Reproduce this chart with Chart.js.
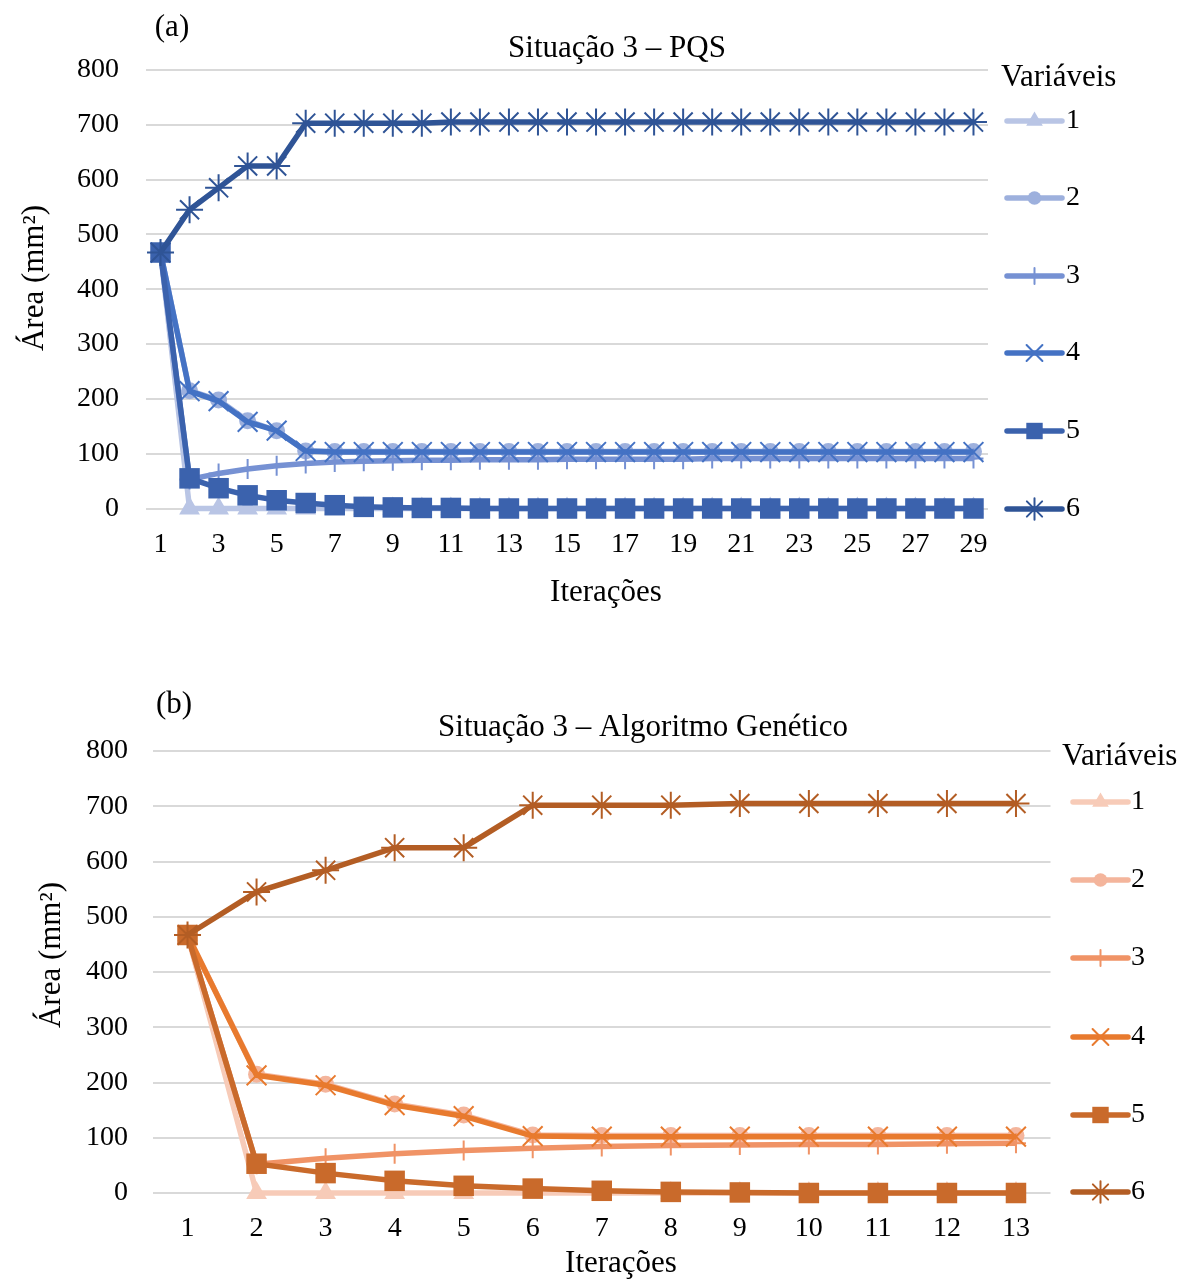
<!DOCTYPE html>
<html><head><meta charset="utf-8">
<script src="https://cdn.jsdelivr.net/npm/chart.js@4/dist/chart.umd.min.js"></script>
<style>
html,body{margin:0;padding:0;background:#fff;}
#wrap{position:relative;width:1185px;height:1282px;overflow:hidden;}
canvas{position:absolute;left:0;}
</style></head><body>
<div id="wrap">
<canvas id="chartA" width="1185" height="640" style="top:0px"></canvas>
<canvas id="chartB" width="1185" height="642" style="top:640px"></canvas>
</div>
<script>
// ---------- DATA ----------
const seriesNames = ['1', '2', '3', '4', '5', '6'];
const yTicks = [0, 100, 200, 300, 400, 500, 600, 700, 800];

// (a) Situação 3 – PQS
const iterA = ['1','2','3','4','5','6','7','8','9','10','11','12','13','14','15','16','17','18','19','20','21','22','23','24','25','26','27','28','29'];
const pqsVar1 = [467, 0, 0, 0, 0, 0, 0, 0, 0, 0, 0, 0, 0, 0, 0, 0, 0, 0, 0, 0, 0, 0, 0, 0, 0, 0, 0, 0, 0];
const pqsVar2 = [467, 215, 198, 160, 142, 105, 104, 104, 104, 104, 104, 104, 104, 104, 104, 104, 104, 104, 104, 104, 104, 104, 104, 104, 104, 104, 104, 104, 104];
const pqsVar3 = [467, 53, 64, 72, 78, 82, 85, 86, 87, 88, 88, 89, 89, 89, 90, 90, 90, 90, 90, 91, 91, 91, 91, 91, 91, 91, 91, 91, 91];
const pqsVar4 = [467, 214, 196, 158, 142, 105, 103, 103, 103, 103, 103, 103, 103, 103, 103, 103, 103, 103, 103, 103, 103, 103, 103, 103, 103, 103, 103, 103, 103];
const pqsVar5 = [467, 55, 37, 24, 15, 10, 6, 3, 2, 1, 1, 0, 0, 0, 0, 0, 0, 0, 0, 0, 0, 0, 0, 0, 0, 0, 0, 0, 0];
const pqsVar6 = [467, 545, 585, 625, 625, 703, 703, 703, 703, 703, 705, 705, 705, 705, 705, 705, 705, 705, 705, 705, 705, 705, 705, 705, 705, 705, 705, 705, 705];

// (b) Situação 3 – Algoritmo Genético
const iterB = ['1','2','3','4','5','6','7','8','9','10','11','12','13'];
const agVar1 = [467, 0, 0, 0, 0, 0, 0, 0, 0, 0, 0, 0, 0];
const agVar2 = [467, 215, 197, 161, 141, 105, 104, 104, 104, 104, 104, 104, 104];
const agVar3 = [467, 52, 63, 71, 77, 81, 84, 86, 87, 88, 88, 89, 90];
const agVar4 = [467, 213, 195, 159, 139, 103, 102, 102, 102, 102, 102, 102, 102];
const agVar5 = [467, 53, 36, 22, 13, 8, 4, 2, 1, 0, 0, 0, 0];
const agVar6 = [467, 545, 584, 625, 625, 702, 702, 702, 705, 705, 705, 705, 705];

// ---------- STYLES ----------
const FONT = '"Liberation Serif", "Times New Roman", serif';
const bluePalette = ['#B9C5E5', '#9DB0DD', '#7691D3', '#4472C4', '#3B62AD', '#2F5496'];
const orangePalette = ['#F7CBB8', '#F4B59C', '#F09366', '#E87A2E', '#C96A2B', '#B35D24'];
const pointStyles = ['triangle', 'circle', 'cross', 'crossRot', 'rect', 'star'];
const pointRadii = [12, 8.5, 10, 14, 14.5, 13.5];
const pointBorders = [0, 0, 2, 2, 0, 2];

function buildDatasets(seriesList, palette) {
  return seriesList.map((vals, i) => ({
    label: seriesNames[i],
    data: vals,
    borderColor: palette[i],
    backgroundColor: palette[i],
    pointBackgroundColor: palette[i],
    pointBorderColor: palette[i],
    borderWidth: 5.5,
    pointStyle: pointStyles[i],
    pointRadius: pointRadii[i],
    pointBorderWidth: pointBorders[i],
    pointHoverRadius: pointRadii[i],
    tension: 0,
    clip: false,
    order: seriesList.length - 1 - i
  }));
}

const decor = {
  id: 'decor',
  afterDraw(chart, args, o) {
    const ctx = chart.ctx;
    ctx.save();
    ctx.fillStyle = '#000';
    ctx.textBaseline = 'middle';
    for (const t of o.texts) {
      ctx.save();
      ctx.font = t.size + 'px ' + FONT;
      ctx.textAlign = 'center';
      ctx.translate(t.x, t.y);
      if (t.rot) ctx.rotate(t.rot);
      ctx.fillText(t.text, 0, 0);
      ctx.restore();
    }
    const L = o.legend;
    ctx.font = '31px ' + FONT;
    ctx.textAlign = 'left';
    ctx.fillText(L.title, L.titleX, L.titleY);
    chart.data.datasets.forEach((ds, i) => {
      const y = L.ys[i];
      ctx.save();
      ctx.strokeStyle = ds.borderColor;
      ctx.lineWidth = ds.borderWidth;
      ctx.lineCap = 'round';
      ctx.beginPath();
      ctx.moveTo(L.x0, y);
      ctx.lineTo(L.x1, y);
      ctx.stroke();
      ctx.fillStyle = ds.pointBackgroundColor;
      ctx.strokeStyle = ds.pointBorderColor;
      ctx.lineWidth = ds.pointBorderWidth;
      Chart.helpers.drawPoint(ctx, {pointStyle: ds.pointStyle, radius: ds.pointRadius * 0.8, borderWidth: ds.pointBorderWidth, rotation: 0}, (L.x0 + L.x1) / 2, y);
      ctx.restore();
      ctx.fillStyle = '#000';
      ctx.font = '28px ' + FONT;
      ctx.fillText(ds.label, L.labelX, y);
    });
    ctx.restore();
  }
};

function makeChart(id, labels, datasets, geo, decorOpts, tickCb) {
  return new Chart(document.getElementById(id), {
    type: 'line',
    data: { labels: labels, datasets: datasets },
    plugins: [decor],
    options: {
      responsive: false,
      animation: false,
      devicePixelRatio: 1,
      layout: { padding: { top: geo.top, left: 0, right: geo.right, bottom: geo.bottom } },
      plugins: { legend: { display: false }, title: { display: false }, tooltip: { enabled: false }, decor: decorOpts },
      scales: {
        x: {
          type: 'category',
          offset: true,
          grid: { display: false, drawTicks: false },
          border: { display: false },
          ticks: { color: '#000', font: { family: FONT, size: 28 }, padding: 19, autoSkip: false, maxRotation: 0, callback: tickCb },
          afterFit: (s) => { s.height = geo.xHeight; }
        },
        y: {
          min: yTicks[0], max: yTicks[yTicks.length - 1],
          afterBuildTicks: (s) => { s.ticks = yTicks.map(v => ({ value: v })); },
          grid: { color: '#D9D9D9', lineWidth: 2, drawTicks: false },
          border: { display: false },
          ticks: { color: '#000', font: { family: FONT, size: 28 }, padding: geo.yPad },
          afterFit: (s) => { s.width = geo.yWidth; }
        }
      }
    }
  });
}

makeChart('chartA', iterA,
  buildDatasets([pqsVar1, pqsVar2, pqsVar3, pqsVar4, pqsVar5, pqsVar6], bluePalette),
  { top: 70, right: 197, bottom: 71.5, xHeight: 60, yWidth: 146, yPad: 27 },
  {
    texts: [
      { text: '(a)', x: 172, y: 28, size: 31 },
      { text: 'Situação 3 – PQS', x: 617, y: 49, size: 31 },
      { text: 'Iterações', x: 606, y: 593, size: 31 },
      { text: 'Área (mm²)', x: 35, y: 278, size: 31, rot: -Math.PI / 2 }
    ],
    legend: { title: 'Variáveis', titleX: 1001, titleY: 78, x0: 1007, x1: 1062, labelX: 1066, ys: [121, 198, 276, 353, 431, 509] }
  },
  function (val, idx) { return idx % 2 === 0 ? this.getLabelForValue(val) : ''; }
);

makeChart('chartB', iterB,
  buildDatasets([agVar1, agVar2, agVar3, agVar4, agVar5, agVar6], orangePalette),
  { top: 111, right: 134.5, bottom: 29, xHeight: 60, yWidth: 153, yPad: 25 },
  {
    texts: [
      { text: '(b)', x: 174, y: 65, size: 31 },
      { text: 'Situação 3 – Algoritmo Genético', x: 643, y: 88, size: 31 },
      { text: 'Iterações', x: 621, y: 624, size: 31 },
      { text: 'Área (mm²)', x: 52, y: 315, size: 31, rot: -Math.PI / 2 }
    ],
    legend: { title: 'Variáveis', titleX: 1062, titleY: 117, x0: 1073, x1: 1128, labelX: 1131, ys: [162, 240, 318, 397, 475, 552] }
  },
  function (val) { return this.getLabelForValue(val); }
);
</script>
</body></html>
